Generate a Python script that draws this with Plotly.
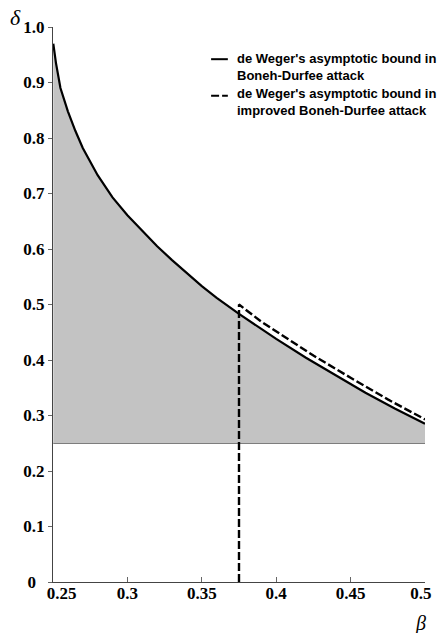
import plotly.graph_objects as go

# Solid curve: de Weger's asymptotic bound in Boneh-Durfee attack
beta_bd = [0.2502, 0.252, 0.255, 0.26, 0.265, 0.27, 0.28, 0.29, 0.30, 0.31, 0.32, 0.33,
           0.34, 0.35, 0.36, 0.375, 0.39, 0.40, 0.42, 0.44, 0.46, 0.48, 0.50]
delta_bd = [0.97, 0.935, 0.89, 0.848, 0.813, 0.782, 0.733, 0.693, 0.661, 0.632, 0.605, 0.58,
            0.556, 0.533, 0.512, 0.483, 0.456, 0.438, 0.404, 0.372, 0.341, 0.312, 0.285]

# Dashed curve: improved Boneh-Durfee attack (starts with vertical segment at beta=0.375)
beta_imp = [0.375, 0.375, 0.39, 0.40, 0.425, 0.45, 0.475, 0.50]
delta_imp = [0.0, 0.5, 0.469, 0.452, 0.408, 0.368, 0.329, 0.293]

baseline = 0.25
x_range = [0.25, 0.5]
y_range = [0.0, 1.0]

x_ticks = [0.25, 0.3, 0.35, 0.4, 0.45, 0.5]
x_ticktext = ["&nbsp;&nbsp;&nbsp;&nbsp;0.25", "0.3", "0.35", "0.4", "0.45", "0.5&nbsp;&nbsp;"]
y_ticks = [0, 0.1, 0.2, 0.3, 0.4, 0.5, 0.6, 0.7, 0.8, 0.9, 1.0]
y_ticktext = ["0&nbsp;&nbsp;", "0.1", "0.2", "0.3", "0.4", "0.5", "0.6", "0.7", "0.8", "0.9", "1.0"]

legend_names = ["de Weger's asymptotic bound in<br>Boneh-Durfee attack",
                "de Weger's asymptotic bound in<br>improved Boneh-Durfee attack"]

DASH = "8px,3px"

fig = go.Figure()

# baseline at delta = 0.25
fig.add_trace(go.Scatter(x=[beta_bd[0], beta_bd[-1]], y=[baseline, baseline], mode="lines",
                         line=dict(color="#333333", width=1.2), showlegend=False, hoverinfo="skip"))
# shaded region between baseline and solid curve
fig.add_trace(go.Scatter(x=[beta_bd[0]] + beta_bd + [beta_bd[-1]],
                         y=[baseline] + delta_bd + [baseline],
                         mode="lines", fill="toself", fillcolor="#c3c3c3",
                         line=dict(width=0), showlegend=False, hoverinfo="skip"))
fig.add_trace(go.Scatter(x=beta_bd, y=delta_bd, mode="lines",
                         line=dict(color="black", width=2.2), showlegend=False))
fig.add_trace(go.Scatter(x=beta_imp, y=delta_imp, mode="lines",
                         line=dict(color="black", width=2.4, dash=DASH), showlegend=False))

# manual legend
leg_font = dict(family="Liberation Sans", size=13, color="black", weight="bold")
fig.add_shape(type="line", xref="paper", yref="paper", x0=0.425, x1=0.470, y0=0.942, y1=0.942,
              line=dict(color="black", width=2))
fig.add_shape(type="line", xref="paper", yref="paper", x0=0.425, x1=0.470, y0=0.876, y1=0.876,
              line=dict(color="black", width=2, dash=DASH))
fig.add_annotation(xref="paper", yref="paper", x=1.035, y=0.928, xanchor="right", yanchor="middle",
                   text=legend_names[0], showarrow=False, align="left", font=leg_font)
fig.add_annotation(xref="paper", yref="paper", x=1.035, y=0.864, xanchor="right", yanchor="middle",
                   text=legend_names[1], showarrow=False, align="left", font=leg_font)

# axis symbols
fig.add_annotation(xref="paper", yref="paper", x=-0.102, y=1.018, text="δ", showarrow=False,
                   xanchor="center", yanchor="middle",
                   font=dict(family="Liberation Serif", size=22, color="black", style="italic"))
fig.add_annotation(xref="paper", yref="paper", x=0.987, y=-0.074, text="β", showarrow=False,
                   xanchor="center", yanchor="middle",
                   font=dict(family="Liberation Serif", size=20, color="black", style="italic"))

tick_font = dict(family="Liberation Serif", size=17, color="black", weight="bold")
fig.update_xaxes(range=x_range, tickvals=x_ticks, ticktext=x_ticktext, showgrid=False,
                 zeroline=False, showline=True, linecolor="#444444", linewidth=1.2,
                 ticks="inside", ticklen=5, tickcolor="#666666", tickfont=tick_font,
                 ticklabelstandoff=-5, automargin=False)
fig.update_yaxes(range=y_range, tickvals=y_ticks, ticktext=y_ticktext, showgrid=False,
                 zeroline=False, showline=True, linecolor="#444444", linewidth=1.2,
                 ticks="outside", ticklen=4, tickcolor="#666666", tickfont=tick_font,
                 automargin=False)

fig.update_layout(width=440, height=633, plot_bgcolor="white", paper_bgcolor="white",
                  margin=dict(l=53, r=15, t=27, b=51), showlegend=False)

fig.write_html("out.html", config={"displayModeBar": False},
               post_script="document.body.style.margin='0';document.body.style.overflow='hidden';")
